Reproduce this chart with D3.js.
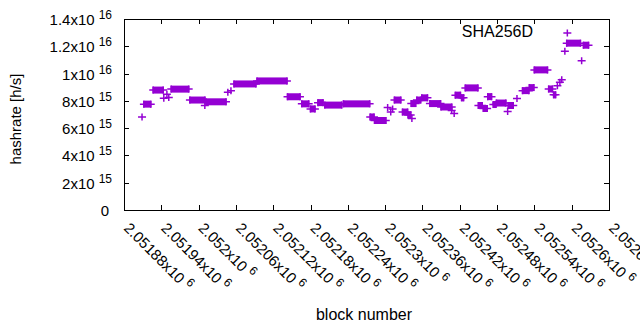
<!DOCTYPE html>
<html>
<head>
<meta charset="utf-8">
<script src="https://cdn.jsdelivr.net/npm/d3@7"></script>
<style>
  body { margin: 0; background: #fff; }
  text { font-family: "Liberation Sans", Arial, sans-serif; fill: #000; }
</style>
</head>
<body>
<div class="chart"></div>
<script>
// runs of blocks with the same estimated hashrate (start == end is a single point)
const segStart = [2051909, 2051912, 2051927, 2051944, 2051949, 2051952, 2051956, 2051986, 2052010, 2052012,
  2052047, 2052052, 2052057, 2052094, 2052143, 2052166, 2052180, 2052192, 2052203, 2052233,
  2052276, 2052283, 2052304, 2052309, 2052312, 2052315, 2052328, 2052337, 2052343, 2052342,
  2052351, 2052359, 2052372, 2052390, 2052407, 2052411, 2052413, 2052423, 2052429, 2052450,
  2052458, 2052465, 2052474, 2052479, 2052497, 2052498, 2052512, 2052521, 2052532, 2052540,
  2052563, 2052571, 2052577, 2052581, 2052584, 2052589, 2052593, 2052592, 2052616, 2052619];
const segEnd = [2051909, 2051923, 2051943, 2051944, 2051949, 2051952, 2051984, 2052010, 2052010, 2052044,
  2052047, 2052052, 2052092, 2052142, 2052163, 2052177, 2052187, 2052200, 2052230, 2052275,
  2052282, 2052301, 2052304, 2052309, 2052312, 2052325, 2052336, 2052341, 2052343, 2052349,
  2052357, 2052368, 2052389, 2052407, 2052407, 2052411, 2052421, 2052426, 2052449, 2052456,
  2052464, 2052471, 2052478, 2052494, 2052497, 2052506, 2052512, 2052531, 2052539, 2052561,
  2052569, 2052574, 2052577, 2052581, 2052584, 2052589, 2052593, 2052614, 2052616, 2052627];
const segValue = [6.82e15, 7.76e15, 8.79e15, 8.20e15, 8.49e15, 8.24e15, 8.86e15, 8.06e15, 7.66e15, 7.93e15,
  8.64e15, 8.75e15, 9.24e15, 9.46e15, 8.30e15, 7.78e15, 7.41e15, 7.87e15, 7.69e15, 7.78e15,
  6.82e15, 6.56e15, 7.51e15, 7.18e15, 7.40e15, 8.06e15, 7.18e15, 6.96e15, 6.71e15, 7.80e15,
  8.06e15, 8.22e15, 7.80e15, 7.55e15, 7.29e15, 7.07e15, 8.42e15, 8.22e15, 8.95e15, 7.66e15,
  7.44e15, 8.31e15, 7.73e15, 7.84e15, 7.22e15, 7.66e15, 8.17e15, 8.75e15, 8.97e15, 1.027e16,
  8.87e15, 8.44e15, 9.11e15, 9.37e15, 9.55e15, 1.163e16, 1.298e16, 1.223e16, 1.094e16, 1.208e16];

const xTicks = [2051880, 2051940, 2052000, 2052060, 2052120, 2052180, 2052240,
  2052300, 2052360, 2052420, 2052480, 2052540, 2052600, 2052660];
const yTicks = [0, 2e15, 4e15, 6e15, 8e15, 1e16, 1.2e16, 1.4e16];
const seriesName = 'SHA256D';

const width = 640, height = 330;
const margin = {left: 124, right: 31, top: 19, bottom: 120};
const color = '#9400d3';

const svg = d3.select('.chart').append('svg')
  .attr('width', width)
  .attr('height', height);

const x = d3.scaleLinear().domain([2051880, 2052660]).range([margin.left, width - margin.right]);
const y = d3.scaleLinear().domain([0, 1.4e16]).range([height - margin.bottom, margin.top]);

// "a x10 b" label with b raised
function sciLabel(sel, v) {
  if (v === 0) { sel.text('0'); return; }
  const e = Math.floor(Math.log10(v) + 1e-9);
  const m = d3.format('.6~g')(v / Math.pow(10, e));
  sel.append('tspan').text(m + 'x10');
  sel.append('tspan').attr('dx', 4).attr('dy', -6).style('font-size', '12px').text(e);
}

const x0 = x.range()[0], x1 = x.range()[1], y0 = y.range()[0], y1 = y.range()[1];
const tl = 5;

// ticks on all four sides
const tg = svg.append('g').attr('stroke', '#000').attr('stroke-width', 1);
yTicks.forEach(v => {
  const yy = Math.round(y(v)) + 0.5;
  tg.append('line').attr('x1', x0).attr('x2', x0 + tl).attr('y1', yy).attr('y2', yy);
  tg.append('line').attr('x1', x1).attr('x2', x1 - tl).attr('y1', yy).attr('y2', yy);
});
xTicks.forEach(v => {
  const xx = Math.round(x(v)) + 0.5;
  tg.append('line').attr('x1', xx).attr('x2', xx).attr('y1', y0).attr('y2', y0 - tl);
  tg.append('line').attr('x1', xx).attr('x2', xx).attr('y1', y1).attr('y2', y1 + tl);
});

svg.append('rect')
  .attr('x', Math.round(x0) + 0.5).attr('y', Math.round(y1) + 0.5)
  .attr('width', Math.round(x1 - x0)).attr('height', Math.round(y0 - y1))
  .attr('fill', 'none').attr('stroke', '#000');

svg.append('g').selectAll('text')
  .data(yTicks)
  .join('text')
  .attr('x', d => d === 0 ? 109 : 112)
  .attr('y', d => y(d) + 6)
  .attr('text-anchor', 'end')
  .style('font-size', '15px')
  .each(function(d) { sciLabel(d3.select(this), d); });

svg.append('g').selectAll('text')
  .data(xTicks)
  .join('text')
  .attr('transform', d => `translate(${x(d) - 1},229) rotate(45)`)
  .style('font-size', '15px')
  .each(function(d) { sciLabel(d3.select(this), d); });

svg.append('text')
  .attr('transform', 'translate(21,119) rotate(-90)')
  .attr('text-anchor', 'middle')
  .style('font-size', '15px')
  .text('hashrate [h/s]');

svg.append('text')
  .attr('x', 364).attr('y', 320)
  .attr('text-anchor', 'middle')
  .style('font-size', '16px')
  .text('block number');

svg.append('text')
  .attr('x', 533).attr('y', 37)
  .attr('text-anchor', 'end')
  .style('font-size', '16px')
  .text(seriesName);

// data: each run is a band of overlapping "+" marks
const segs = segStart.map((s, i) => ({s: s, e: segEnd[i], v: segValue[i]}));
const hw = 4, hh = 3.5;
const dg = svg.append('g').attr('stroke', color).attr('stroke-width', 1.5);

dg.selectAll('rect')
  .data(segs.filter(d => d.e > d.s))
  .join('rect')
  .attr('x', d => x(d.s) - 0.75)
  .attr('width', d => x(d.e) - x(d.s) + 1.5)
  .attr('y', d => y(d.v) - hh)
  .attr('height', hh * 2)
  .attr('fill', color)
  .attr('stroke', 'none');

const marks = [];
segs.forEach(d => {
  marks.push({b: d.s, v: d.v});
  if (d.e > d.s) marks.push({b: d.e, v: d.v});
});
dg.selectAll('path')
  .data(marks)
  .join('path')
  .attr('fill', 'none')
  .attr('d', d => {
    const px = x(d.b), py = y(d.v);
    return `M${px - hw},${py}H${px + hw}M${px},${py - hh}V${py + hh}`;
  });
</script>
</body>
</html>
